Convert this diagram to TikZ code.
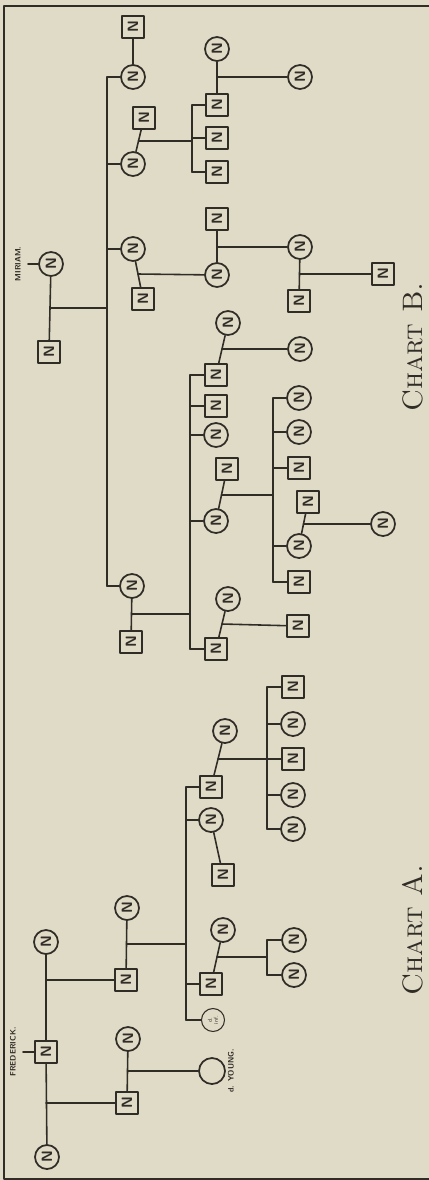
\documentclass[tikz,border=0pt]{standalone}
\usetikzlibrary{calc}
\definecolor{papel}{RGB}{224,219,199}
\definecolor{tinta}{RGB}{48,44,38}

\begin{document}
\begin{tikzpicture}[
    x={(0.02cm,0cm)},
    y={(0cm,-0.02cm)},
    line join=round,
    line cap=round,
    every node/.style={text=tinta},
    rama/.style={draw=tinta, line width=0.9pt},
    marco/.style={draw=tinta, line width=0.7pt},
    hombre/.style={draw=tinta, line width=1pt, minimum size=0.44cm, inner sep=0pt, rotate=90, font=\sffamily\bfseries\fontsize{8.5}{8.5}\selectfont},
    mujer/.style={hombre, circle, minimum size=0.48cm},
    infante/.style={circle, draw=tinta, line width=0.6pt, minimum size=0.46cm, inner sep=0pt, rotate=90, align=center, font=\sffamily\fontsize{3.2}{3.4}\selectfont},
    nombre/.style={rotate=90, font=\sffamily\bfseries\fontsize{4.5}{4.5}\selectfont},
    titulo/.style={rotate=90, font=\fontsize{16}{16}\selectfont\scshape}
]

\useasboundingbox (0,0) rectangle (429,1180);
\fill[papel] (0,0) rectangle (429,1180);
\draw[marco] (429,6) -- (4,6) -- (4,1179) -- (429,1179);

% chart B
\node[mujer] (miriam) at (51,264) {N};
\node[nombre] (lmiriam) at (18,264) {MIRIAM.};
\coordinate (tmiriam) at (28,264);
\node[hombre] (esposoB) at (49,352) {N};
\draw[rama] (tmiriam) -- (miriam);
\draw[rama] (miriam) -- (esposoB);

\coordinate (troncoB) at (107,77);
\coordinate (troncoBfin) at (107,586);
\coordinate (mB) at ($(miriam)!0.5!(esposoB)$);
\draw[rama] (mB) -- (mB -| troncoB);
\draw[rama] (troncoB) -- (troncoBfin);

\node[mujer] (b1) at (133,77) {N};
\node[mujer] (b2) at (133,164) {N};
\node[mujer] (b3) at (133,249) {N};
\node[mujer] (b4) at (132,586) {N};
\foreach \h in {b1,b2,b3,b4}
    \draw[rama] (\h) -- (\h -| troncoB);

\node[hombre] (b1e) at (133,27) {N};
\draw[rama] (b1) -- (b1e);

\node[hombre] (b2e) at (144,118) {N};
\draw[rama] (b2) -- (b2e);
\coordinate (m2) at ($(b2)!0.5!(b2e)$);
\coordinate (bus2) at (192,105);
\node[hombre] (b21) at (217,105) {N};
\node[hombre] (b22) at (217,138) {N};
\node[hombre] (b23) at (217,172) {N};
\draw[rama] (m2) -- (m2 -| bus2);
\draw[rama] (b21 -| bus2) -- (b23 -| bus2);
\foreach \h in {b21,b22,b23}
    \draw[rama] (\h) -- (\h -| bus2);
\node[mujer] (b21e) at (217,49) {N};
\draw[rama] (b21) -- (b21e);
\coordinate (m21) at ($(b21e)!0.5!(b21)$);
\node[mujer] (b211) at (300,77) {N};
\draw[rama] (m21) -- (b211);

\node[hombre] (b3e) at (143,299) {N};
\draw[rama] (b3) -- (b3e);
\coordinate (m3) at ($(b3)!0.5!(b3e)$);
\node[mujer] (b31) at (217,275) {N};
\draw[rama] (m3) -- (b31);
\node[hombre] (b31e) at (217,219) {N};
\draw[rama] (b31) -- (b31e);
\coordinate (m31) at ($(b31e)!0.5!(b31)$);
\node[mujer] (b311) at (300,247) {N};
\draw[rama] (m31) -- (b311);
\node[hombre] (b311e) at (299,301) {N};
\draw[rama] (b311) -- (b311e);
\coordinate (m311) at ($(b311)!0.5!(b311e)$);
\node[hombre] (b3111) at (383,274) {N};
\draw[rama] (m311) -- (b3111);

\node[hombre] (b4e) at (131,642) {N};
\draw[rama] (b4) -- (b4e);
\coordinate (m4) at ($(b4)!0.5!(b4e)$);
\coordinate (bus4) at (190,375);
\node[hombre] (b41) at (216,375) {N};
\node[hombre] (b42) at (216,406) {N};
\node[mujer] (b43) at (216,435) {N};
\node[mujer] (b44) at (216,521) {N};
\node[hombre] (b45) at (216,649) {N};
\draw[rama] (m4) -- (m4 -| bus4);
\draw[rama] (b41 -| bus4) -- (b45 -| bus4);
\foreach \h in {b41,b42,b43,b44,b45}
    \draw[rama] (\h) -- (\h -| bus4);

\node[mujer] (b41e) at (228,323) {N};
\draw[rama] (b41) -- (b41e);
\coordinate (m41) at ($(b41)!0.5!(b41e)$);
\node[mujer] (b411) at (300,349) {N};
\draw[rama] (m41) -- (b411);

\node[hombre] (b44e) at (227,469) {N};
\draw[rama] (b44) -- (b44e);
\coordinate (m44) at ($(b44)!0.5!(b44e)$);
\coordinate (bus44) at (273,398);
\node[mujer] (b441) at (299,398) {N};
\node[mujer] (b442) at (299,432) {N};
\node[hombre] (b443) at (299,468) {N};
\node[mujer] (b444) at (299,546) {N};
\node[hombre] (b445) at (299,582) {N};
\draw[rama] (m44) -- (m44 -| bus44);
\draw[rama] (b441 -| bus44) -- (b445 -| bus44);
\foreach \h in {b441,b442,b443,b444,b445}
    \draw[rama] (\h) -- (\h -| bus44);
\node[hombre] (b444e) at (308,502) {N};
\draw[rama] (b444) -- (b444e);
\coordinate (m444) at ($(b444)!0.5!(b444e)$);
\node[mujer] (b4441) at (383,524) {N};
\draw[rama] (m444) -- (b4441);

\node[mujer] (b45e) at (228,599) {N};
\draw[rama] (b45) -- (b45e);
\coordinate (m45) at ($(b45)!0.5!(b45e)$);
\node[hombre] (b451) at (298,626) {N};
\draw[rama] (m45) -- (b451);

\node[titulo] (tituloB) at (413,347) {Chart B.};

% chart A
\node[hombre] (fred) at (46,1052) {N};
\node[nombre] (lfred) at (13,1052) {FREDERICK.};
\coordinate (tfred) at (23,1052);
\draw[rama] (tfred) -- (fred);
\node[mujer] (fw1) at (46,942) {N};
\node[mujer] (fw2) at (47,1157) {N};
\draw[rama] (fw1) -- (fred);
\draw[rama] (fred) -- (fw2);

\node[hombre] (a1) at (126,980) {N};
\node[hombre] (a2) at (127,1103) {N};
\draw[rama] (a1) -- (a1 -| fred);
\draw[rama] (a2) -- (a2 -| fred);

\node[mujer] (a1e) at (127,908) {N};
\draw[rama] (a1) -- (a1e);
\coordinate (ma1) at ($(a1e)!0.5!(a1)$);
\coordinate (busA) at (186,787);
\node[hombre] (c1) at (211,787) {N};
\node[mujer] (c2) at (211,820) {N};
\node[hombre] (c3) at (211,984) {N};
\node[infante] (c4) at (213,1020) {d.\\inf.};
\draw[rama] (ma1) -- (ma1 -| busA);
\draw[rama] (c1 -| busA) -- (c4 -| busA);
\foreach \h in {c1,c2,c3,c4}
    \draw[rama] (\h) -- (\h -| busA);

\node[mujer] (c1e) at (225,731) {N};
\draw[rama] (c1) -- (c1e);
\coordinate (mc1) at ($(c1)!0.5!(c1e)$);
\coordinate (busC1) at (267,687);
\node[hombre] (c11) at (293,687) {N};
\node[mujer] (c12) at (293,724) {N};
\node[hombre] (c13) at (293,759) {N};
\node[mujer] (c14) at (293,795) {N};
\node[mujer] (c15) at (293,829) {N};
\draw[rama] (mc1) -- (mc1 -| busC1);
\draw[rama] (c11 -| busC1) -- (c15 -| busC1);
\foreach \h in {c11,c12,c13,c14,c15}
    \draw[rama] (\h) -- (\h -| busC1);

\node[hombre] (c2e) at (223,875) {N};
\draw[rama] (c2) -- (c2e);

\node[mujer] (c3e) at (223,930) {N};
\draw[rama] (c3) -- (c3e);
\coordinate (mc3) at ($(c3)!0.5!(c3e)$);
\coordinate (busC3) at (267,940);
\node[mujer] (c31) at (294,940) {N};
\node[mujer] (c32) at (294,975) {N};
\draw[rama] (mc3) -- (mc3 -| busC3);
\draw[rama] (c31 -| busC3) -- (c32 -| busC3);
\foreach \h in {c31,c32}
    \draw[rama] (\h) -- (\h -| busC3);

\node[mujer] (a2e) at (128,1039) {N};
\draw[rama] (a2) -- (a2e);
\coordinate (ma2) at ($(a2e)!0.5!(a2)$);
\node[mujer, minimum size=0.52cm] (joven) at (212,1071) {};
\node[nombre] (ljoven) at (231,1071) {d. YOUNG.};
\draw[rama] (ma2) -- (joven);

\node[titulo] (tituloA) at (413,930) {Chart A.};

\end{tikzpicture}
\end{document}
